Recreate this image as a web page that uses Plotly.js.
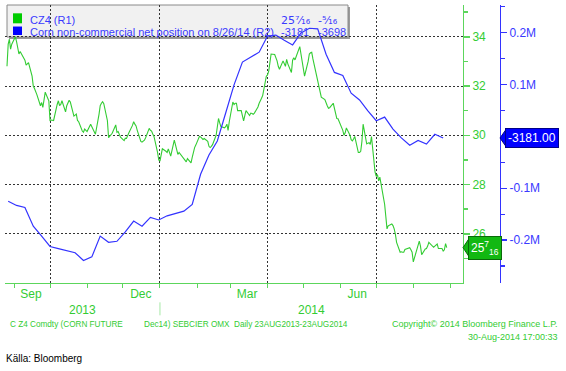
<!DOCTYPE html>
<html><head><meta charset="utf-8">
<script src="https://cdn.plot.ly/plotly-3.0.1.min.js"></script>
<style>html,body{margin:0;padding:0;background:#fff}#chart{width:566px;height:371px}</style>
</head><body><div id="chart"></div>
<script>
// ---- data ----
const priceStart = '2013-08-26'; // first trading day (weekdays follow)
const priceValues = [
32.8,33.7,33.9,33.5,33.7,
34.0,33.8,33.6,33.3,33.4,
33.15,33.05,32.85,32.9,32.95,
32.4,32.0,31.9,31.8,31.65,
31.2,31.33,31.13,31.55,31.75,
31.4,30.6,30.62,30.6,30.6,
31.25,31.4,31.2,31.25,31.4,
30.95,31.2,31.35,31.42,31.35,
30.78,30.82,30.86,30.6,30.55,
30.17,30.12,30.25,30.2,30.15,
30.45,30.35,30.22,30.1,30.04,
30.85,31.2,31.3,31.36,31.28,
30.6,29.9,29.95,30.0,30.08,
30.42,30.12,30.15,30.06,29.92,
29.78,29.88,29.87,30.0,30.1,
30.4,30.55,30.45,30.38,30.2,
29.75,29.72,29.76,29.8,29.9,
30.28,30.2,30.17,30.05,29.95,
29.3,29.0,28.95,29.3,29.45,
29.35,29.3,29.45,29.3,29.15,
29.8,29.6,29.3,29.22,29.3,
29.1,29.05,28.98,28.92,29.05,
28.88,29.1,29.35,29.5,29.6,
29.95,29.93,29.88,29.83,29.87,
29.75,29.55,29.5,29.55,29.62,
30.0,30.3,30.68,30.5,30.35,
30.3,30.35,30.45,30.2,30.55,
31.35,31.25,31.3,31.3,31.0,
31.0,30.8,30.58,30.8,31.0,
30.8,30.9,30.88,30.85,30.9,
31.15,31.3,31.38,31.5,31.62,
32.4,32.45,32.6,32.95,33.3,
33.28,33.15,33.02,32.8,32.68,
33.02,32.9,32.8,33.08,32.9,
32.55,33.05,33.15,33.06,33.2,
33.6,33.3,32.95,32.55,32.4,
33.0,33.3,33.35,33.37,33.1,
32.4,32.15,31.95,31.75,31.55,
31.45,31.3,31.2,31.1,31.12,
31.3,31.05,30.78,30.68,30.67,
30.35,30.2,30.0,30.1,30.3,
30.0,29.82,29.77,29.85,29.95,
29.3,29.3,29.35,29.75,30.45,
29.65,29.68,29.7,29.63,29.95,
28.5,28.33,28.4,28.15,28.3,
27.58,27.2,26.7,26.2,26.32,
26.4,26.33,26.2,25.98,25.65,
25.25,25.27,25.25,25.25,25.36,
25.4,25.43,25.35,25.25,24.86,
25.38,25.6,25.7,25.5,25.15,
25.38,25.4,25.5,25.65,25.6,
25.45,25.5,25.55,25.58,25.4,
25.4,25.3,25.35,25.6,25.4375
];
const cotStart = '2013-08-27'; // weekly (Tuesday) report dates
const cotValues = [
-125000,-133000,-137000,-173000,-192000,-212000,-216000,-220000,-224000,-239000,
-232000,-192000,-204000,-202000,-184000,-163000,-173000,-156000,-161000,-153000,
-149000,-144000,-131000,-73000,-36000,-9000,45000,99000,143000,153000,
162000,193000,195000,185000,176000,199000,208000,207000,158000,123000,
117000,83000,70000,49000,30000,37000,14000,-3000,-17000,-8000,
-15000,4000,-3181
];
const monthTickDates = ['2013-09-15','2013-12-16','2014-03-15','2014-06-15'];
const monthTickText = ['Sep','Dec','Mar','Jun'];
const r1Ticks = [26,28,30,32,34];
const r2Ticks = [-200000,-100000,100000,200000];
const r2TickText = ['-0.2M','-0.1M','0.1M','0.2M'];
const legendNames = ['CZ4 (R1)','Corn non-commercial net position on 8/26/14 (R2)'];
const legendLast = ['25\u2077\u2044\u2081\u2086','-3181'];
const legendChange = ['-\u2075\u2044\u2081\u2086','-3698'];
const lastPriceLabel = '25<sup>7</sup><sub>16</sub>';

// ---- dates ----
function weekdays(start, n){
  const out=[]; const d=new Date(start+'T00:00:00Z');
  while(out.length<n){const w=d.getUTCDay(); if(w!==0&&w!==6) out.push(d.toISOString().slice(0,10)); d.setUTCDate(d.getUTCDate()+1);}
  return out;
}
function weekly(start, n){
  const out=[]; const d=new Date(start+'T00:00:00Z');
  for(let i=0;i<n;i++){out.push(d.toISOString().slice(0,10)); d.setUTCDate(d.getUTCDate()+7);}
  return out;
}
const priceDates = weekdays(priceStart, priceValues.length);
const cotDates = weekly(cotStart, cotValues.length);

// ---- layout helpers ----
const PLOT_BOTTOM = 282.7, PLOT_H = 277.7, PAPER_W = 561;
const px = X => (X - 5) / PAPER_W;
const py = Y => (PLOT_BOTTOM - Y) / PLOT_H;
const D = px(463), P2 = px(500);
const xr = ['2013-08-24 08:00','2014-09-11 14:00'];
const mid = (a,b) => new Date((new Date(a.replace(' ','T')+'Z').getTime()+new Date(b.replace(' ','T')+'Z').getTime())/2).toISOString().slice(0,16).replace('T',' ');

const GREEN = '#33cc33', GTXT = '#33cc33', GAXIS = '#5cd65c', BLUE = '#3333ff', BTXT = '#3a3aff';
const FONT = 'Liberation Sans, Arial, sans-serif';
const LFONT = 'DejaVu Sans, Liberation Sans, sans-serif';

const lastP = priceValues[priceValues.length-1];
const lastC = cotValues[cotValues.length-1];

const traces = [
  {x: cotDates, y: cotValues, type:'scatter', mode:'lines', xaxis:'x', yaxis:'y2',
   line:{color:BLUE, width:1.2}, hoverinfo:'skip'},
  {x: priceDates, y: priceValues, type:'scatter', mode:'lines', xaxis:'x', yaxis:'y',
   line:{color:GREEN, width:1.1}, hoverinfo:'skip'},
  {x: [], y: [], xaxis:'x2', yaxis:'y', type:'scatter', hoverinfo:'skip'}
];

const grid = {showgrid:true, gridcolor:'#333', gridwidth:1, griddash:'2px,2px'};

const legendText = (txt, X, Y, font) => ({xref:'paper', yref:'paper', x:px(X), y:py(Y), xanchor:'left', yanchor:'middle',
  showarrow:false, text:txt, font:{family:font||FONT, size:11, color:BTXT}});
const footText = (txt, X, Y, anchor, size, color) => ({xref:'paper', yref:'paper', x:px(X), y:py(Y), xanchor:anchor, yanchor:'middle',
  showarrow:false, text:txt, font:{family:FONT, size:size, color:color||GTXT}});

const layout = {
  width:566, height:371,
  margin:{l:5, r:0, t:5, b:371-PLOT_BOTTOM},
  paper_bgcolor:'#ffffff', plot_bgcolor:'rgba(0,0,0,0)',
  showlegend:false, hovermode:false,
  font:{family:FONT, size:12, color:GTXT},
  xaxis: Object.assign({type:'date', domain:[0,D], range:xr, anchor:'y',
    showline:true, linecolor:GAXIS, linewidth:1, zeroline:false,
    tickmode:'linear', tick0:'2013-10-01', dtick:'M3', ticks:'outside', ticklen:4, tickcolor:GAXIS,
    showticklabels:false,
    minor:{ticks:'outside', ticklen:4, tickcolor:GAXIS, tick0:'2013-09-01', dtick:'M1', showgrid:false}
  }, grid),
  xaxis2: {type:'date', domain:[0,D], range:xr, overlaying:'x', anchor:'y', side:'bottom',
    tickmode:'array', tickvals:monthTickDates, ticktext:monthTickText, ticks:'',
    showgrid:false, showline:false, zeroline:false, ticklabelstandoff:2,
    tickfont:{family:FONT, size:12, color:GTXT}},
  yaxis: Object.assign({range:[24,35.29], side:'right', anchor:'x', zeroline:false,
    showline:true, linecolor:GAXIS, linewidth:1,
    tickmode:'array', tickvals:r1Ticks, ticks:'outside', ticklen:6, tickwidth:1.5, tickcolor:GAXIS,
    tickfont:{family:FONT, size:12, color:GTXT},
    minor:{tickmode:'array', tickvals:[25,27,29,31,33,35], ticks:'outside', ticklen:4, tickcolor:GAXIS, showgrid:false}
  }, grid),
  yaxis2: {range:[-282300,252800], overlaying:'y', side:'right', anchor:'free', position:P2,
    showline:true, linecolor:BLUE, linewidth:1, showgrid:false, zeroline:false,
    tickmode:'array', tickvals:r2Ticks, ticktext:r2TickText, ticks:'outside', ticklen:6, tickwidth:1.5, tickcolor:BLUE,
    tickfont:{family:FONT, size:12, color:BTXT},
    minor:{tickmode:'array', tickvals:[-250000,-150000,-50000,50000,150000,250000], ticks:'outside', ticklen:4, tickcolor:BLUE, showgrid:false}},
  shapes: [
    {type:'rect', xref:'paper', yref:'paper', x0:px(9), x1:px(350), y0:py(39), y1:py(7), fillcolor:'#9a9a9a', line:{width:0}, layer:'below'},
    {type:'rect', xref:'paper', yref:'paper', x0:px(7), x1:px(348), y0:py(37), y1:py(5), fillcolor:'#f1f1f1', line:{color:'#8a8a8a', width:1}, layer:'below'},
    {type:'rect', xref:'paper', yref:'paper', x0:px(13), x1:px(22), y0:py(23.3), y1:py(13.3), fillcolor:'#00cc00', line:{width:0}},
    {type:'rect', xref:'paper', yref:'paper', x0:px(13), x1:px(22), y0:py(35), y1:py(26.5), fillcolor:'#0000ff', line:{width:0}},
    {type:'line', xref:'x', yref:'paper', x0:'2014-01-01', x1:'2014-01-01', y0:py(302), y1:py(315), line:{color:'#a6e8a6', width:1}},
    {type:'path', xref:'paper', yref:'y', path:`M ${D} ${lastP} L ${px(469)} ${lastP+9/24.6} L ${px(469)} ${lastP-9/24.6} Z`, fillcolor:'#12b812', line:{color:'#0a6a0a', width:1}},
    {type:'path', xref:'paper', yref:'y2', path:`M ${P2} ${lastC} L ${px(506)} ${lastC+8.5/519e-6} L ${px(506)} ${lastC-8.5/519e-6} Z`, fillcolor:'#0000ff', line:{color:'#00008a', width:1}}
  ],
  annotations: [
    legendText(legendNames[0], 28, 20),
    legendText(legendNames[1], 28, 32),
    legendText(legendLast[0], 279, 20, LFONT),
    legendText(legendChange[0], 316, 20, LFONT),
    legendText(legendLast[1], 279, 32),
    legendText(legendChange[1], 316, 32),
    {xref:'paper', yref:'y', x:px(468), y:lastP, xanchor:'left', yanchor:'middle', showarrow:false, text:lastPriceLabel,
     bgcolor:'#12b812', bordercolor:'#0a6a0a', borderwidth:1, borderpad:2, font:{family:FONT, size:12, color:'#ffffff'}},
    {xref:'paper', yref:'y2', x:px(505), y:lastC, xanchor:'left', yanchor:'middle', showarrow:false, text:lastC.toFixed(2),
     bgcolor:'#0000ff', bordercolor:'#00008a', borderwidth:1, borderpad:2, font:{family:FONT, size:12, color:'#ffffff'}},
    {xref:'x', yref:'paper', x:mid(xr[0],'2014-01-01 00:00'), y:py(310), xanchor:'center', yanchor:'middle', showarrow:false, text:'2013', font:{family:FONT, size:12, color:GTXT}},
    {xref:'x', yref:'paper', x:mid('2014-01-01 00:00',xr[1]), y:py(310), xanchor:'center', yanchor:'middle', showarrow:false, text:'2014', font:{family:FONT, size:12, color:GTXT}},
    footText('C Z4 Comdty (CORN FUTURE', 8, 324, 'left', 8.2),
    footText('Dec14) SEBCIER OMX\u00a0 Daily 23AUG2013-23AUG2014', 142, 324, 'left', 8.2),
    footText('Copyright© 2014 Bloomberg Finance L.P.', 560, 324, 'right', 9),
    footText('30-Aug-2014 17:00:33', 560, 337, 'right', 9),
    footText('Källa: Bloomberg', 4, 358, 'left', 10, '#000000')
  ]
};

Plotly.newPlot('chart', traces, layout, {staticPlot:true, displayModeBar:false});
</script>
</body></html>
